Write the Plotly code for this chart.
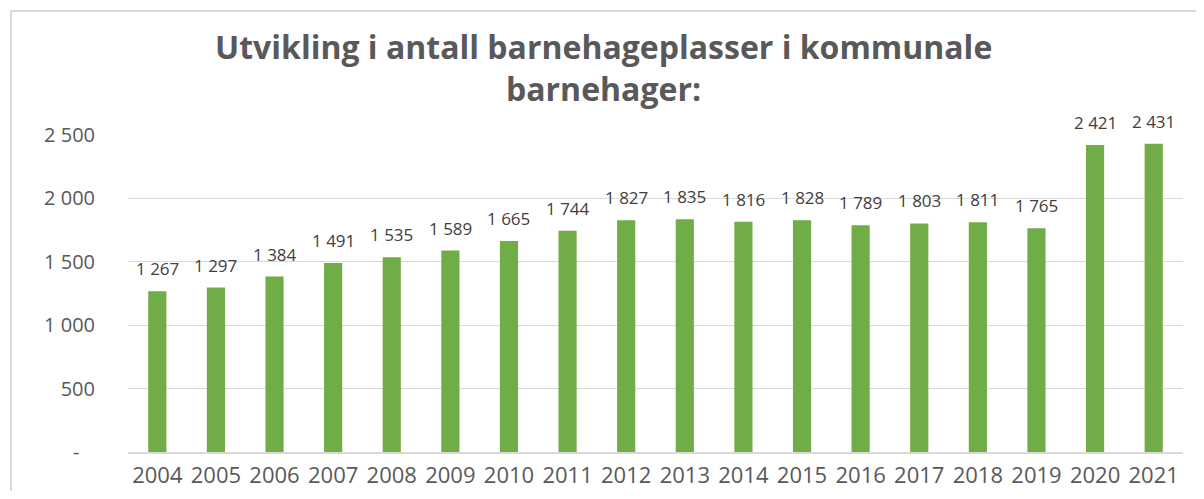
import plotly.graph_objects as go

years = ["2004", "2005", "2006", "2007", "2008", "2009", "2010", "2011", "2012",
         "2013", "2014", "2015", "2016", "2017", "2018", "2019", "2020", "2021"]
plasser = [1267, 1297, 1384, 1491, 1535, 1589, 1665, 1744, 1827,
           1835, 1816, 1828, 1789, 1803, 1811, 1765, 2421, 2431]
y_ticks = [0, 500, 1000, 1500, 2000, 2500]
y_tick_text = ["-\u00a0\u00a0\u00a0", "500", "1 000", "1 500", "2 000", "2 500"]
title_lines = ["Utvikling i antall barnehageplasser i kommunale", "barnehager:"]

labels = [f"{v:,}".replace(",", " ") for v in plasser]

OFF = 8  # page body margin offset
W, H = 1204 - 2 * OFF, 499 - 2 * OFF
# plot area in reference pixel coords
PX0, PX1, PY0, PY1 = 128, 1183, 135, 452
L = PX0 - OFF
R = W - (PX1 - OFF)
T = PY0 - OFF
B = H - (PY1 - OFF)
plot_w = PX1 - PX0
plot_h = PY1 - PY0


def px_x(p):
    return (p - PX0) / plot_w


def px_y(p):
    return (PY1 - p) / plot_h


fig = go.Figure()
fig.add_trace(go.Bar(
    x=years, y=plasser,
    marker=dict(color="#70AD47", line=dict(width=0)),
    hoverinfo="skip",
))

annotations = [
    dict(x=i, y=v, text=t, xref="x", yref="y", xanchor="center", yanchor="bottom",
         yshift=9, showarrow=False,
         font=dict(size=17, color="#404040", family="Open Sans"))
    for i, (v, t) in enumerate(zip(plasser, labels))
]
annotations += [
    dict(text=f"<b>{title_lines[0]}</b>", xref="paper", yref="paper",
         x=px_x(603), y=px_y(47), xanchor="center", yanchor="middle",
         showarrow=False, font=dict(size=32, color="#595959", family="Open Sans")),
    dict(text=f"<b>{title_lines[1]}</b>", xref="paper", yref="paper",
         x=px_x(603), y=px_y(88), xanchor="center", yanchor="middle",
         showarrow=False, font=dict(size=32, color="#595959", family="Open Sans")),
]

fig.update_layout(
    width=W, height=H,
    margin=dict(l=L, r=R, t=T, b=B, pad=0, autoexpand=False),
    plot_bgcolor="white", paper_bgcolor="white",
    bargap=0.69,
    showlegend=False,
    font=dict(family="Open Sans", color="#595959"),
    xaxis=dict(
        type="category", range=[-0.5, len(years) - 0.5], automargin=False,
        showgrid=False, showline=True, linecolor="#D9D9D9",
        linewidth=1.5, ticks="", tickfont=dict(size=22, color="#595959"),
        ticklabelstandoff=3,
    ),
    yaxis=dict(
        range=[0, 2500], tickvals=y_ticks, ticktext=y_tick_text, automargin=False,
        showgrid=True, gridcolor="#D9D9D9", gridwidth=1, zeroline=False,
        showline=False, ticks="", tickfont=dict(size=20, color="#595959"),
        ticklabelstandoff=32,
    ),
    shapes=[dict(
        type="rect", xref="paper", yref="paper",
        x0=px_x(11), x1=px_x(1260), y0=px_y(560), y1=px_y(11),
        line=dict(color="#D9D9D9", width=2), fillcolor="rgba(0,0,0,0)", layer="below",
    )],
    annotations=annotations,
)

fig.write_html("out.html")
